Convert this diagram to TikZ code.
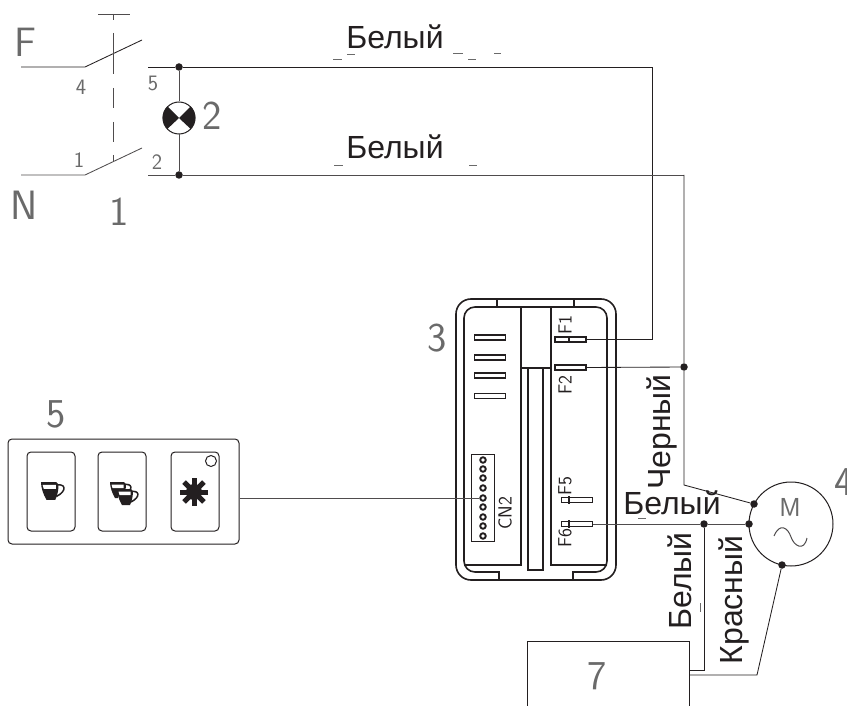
\documentclass[tikz,border=0pt]{standalone}
\usepackage{fontspec}
\setmainfont{Liberation Sans}
\usetikzlibrary{calc}
\definecolor{ink}{HTML}{231F20}
\definecolor{cadgray}{HTML}{6A6A6A}
\tikzset{
  wire/.style={draw=ink,line width=0.85pt},
  thinline/.style={draw=ink!80,line width=0.85pt},
  box/.style={draw=ink,line width=1.6pt},
  joint/.style={circle,fill=ink,inner sep=0pt,minimum size=7.5pt},
  pin/.style={circle,draw=ink,line width=1.9pt,fill=white,inner sep=0pt,minimum size=5.5pt},
  slotbox/.style={draw=ink,line width=1.5pt,fill=white,rectangle,inner sep=0pt,minimum width=31pt,minimum height=5pt},
  colourlabel/.style={font=\fontsize{32}{35}\selectfont,text=ink,inner sep=0pt,anchor=base},
  cadL/.style={font=\sffamily\fontsize{41}{44}\selectfont,text=cadgray,inner sep=0pt},
  cadS/.style={font=\sffamily\fontsize{22}{24}\selectfont,text=cadgray,inner sep=0pt},
  cadT/.style={font=\sffamily\fontsize{19}{21}\selectfont,text=ink,inner sep=0pt,rotate=90},
  tick/.style={draw=cadgray,line width=0.9pt},
  button/.style={draw=ink,line width=1pt,rounded corners=4pt,rectangle,minimum width=48pt,minimum height=79pt,inner sep=0pt},
  cupicon/.pic={
    \draw[ink,line width=1.5pt] (2,-5) .. controls (13,-8) and (14,0) .. (4,5);
    \fill[ink] (-10,-8) -- (4,-8) .. controls (7,-8) and (6,2) .. (3,8) -- (-5,8) .. controls (-8,3) and (-10,-3) .. cycle;
    \fill[white] (-8.5,-5.5) -- (3.5,-5.5) -- (3.5,-2) -- (-7.5,-2) -- cycle;
  }
}
\begin{document}
\begin{tikzpicture}[x=1pt,y=-1pt]
\useasboundingbox (0,0) rectangle (847,706);

% ---- switch 1
\coordinate (fin) at (21,67);
\coordinate (fpiv) at (85,67);
\coordinate (fend) at (142,40);
\coordinate (nin) at (21,175);
\coordinate (npiv) at (85,175);
\coordinate (nend) at (142,148);
\coordinate (outF) at (148,67);
\coordinate (outN) at (148,175);
\draw[wire] (fin) -- (fpiv) -- (fend);
\draw[thinline] (nin) -- (npiv) -- (nend);
\coordinate (linkA) at (113,33);
\coordinate (linkB) at (113,162);
\coordinate (tbarL) at (98,14);
\coordinate (tbarR) at (130,14);
\coordinate (tbarM) at (113,14);
\coordinate (tbarD) at (113,20);
\draw[thinline] (tbarL) -- (tbarR) (tbarM) -- (tbarD);
\draw[thinline,dash pattern=on 41pt off 14pt on 20pt off 14pt on 20pt off 13pt on 7pt] (linkA) -- (linkB);
\node[cadL] (lF) at (25,42) {F};
\node[cadL] (lN) at (24,205) {N};
\node[cadL] (l1) at (119,212) {1};
\node[cadS] (p4) at (81,87) {4};
\node[cadS] (p5) at (153,83) {5};
\node[cadS] (p1) at (79,160) {1};
\node[cadS] (p2) at (157,162) {2};

% ---- lamp 2
\node[circle,draw=ink,line width=1pt,fill=white,minimum size=32pt,inner sep=0pt] (lamp) at (179,118) {};
\fill[ink] (lamp.center) -- (lamp.135) arc[start angle=135,end angle=225,radius=16pt] -- cycle;
\fill[ink] (lamp.center) -- (lamp.45) arc[start angle=45,end angle=-45,radius=16pt] -- cycle;
\node[joint] (jF) at (179,67) {};
\node[joint] (jN) at (179,175) {};
\draw[thinline] (jF) -- (lamp);
\draw[thinline] (jN) -- (lamp);
\node[cadL] (l2) at (212,116) {2};

% ---- controller 3
\node[box,rectangle,rounded corners=15pt,minimum width=160pt,minimum height=281pt,inner sep=0pt] (ctrl) at (536,439.5) {};
\draw[box] (499,580) -- (499,572) [rounded corners=11pt] -- (464,572) -- (464,307) -- (607,307) -- (607,572) [sharp corners] -- (573,572) -- (573,580);
\draw[box] (497,299) -- (497,307) (574,299) -- (574,307);
\draw[box] (464,565) -- (521,565) -- (521,307);
\draw[box] (607,565) -- (551,565) -- (551,307);
\draw[box] (521,368) -- (551,368);
\node[box,rectangle,minimum width=15pt,minimum height=202pt,inner sep=0pt] (strip) at (535.5,469) {};
\foreach \n/\yy in {a/337.5,b/357.5,c/375.5,d/396} {
  \node[slotbox] (slot\n) at (490,\yy) {};
}
\node[slotbox] (F1) at (570.5,339.5) {};
\node[slotbox] (F2) at (570.5,367.5) {};
\node[slotbox] (F5) at (577,500) {};
\node[slotbox] (F6) at (577,524) {};
\draw[box] (569,336) -- (569,343) (569,496) -- (569,504) (569,520) -- (569,528);
\node[cadT] (tF1) at (565,325) {F1};
\node[cadT] (tF2) at (565,385) {F2};
\node[cadT] (tF5) at (565,486) {F5};
\node[cadT] (tF6) at (565,538) {F6};
\node[cadT] (tCN) at (505,513) {CN2};
\node[draw=ink,line width=.9pt,rectangle,minimum width=23pt,minimum height=87pt,inner sep=0pt] (cn) at (482.5,497.5) {};
\foreach \i/\yy in {1/460,2/469,3/478,4/488,5/498,6/507,7/517,8/526,9/536} {
  \node[pin] (pin\i) at (483,\yy) {};
}
\node[cadL] (l3) at (437,338) {3};

% ---- panel 5
\node[box,draw=ink,line width=1pt,rectangle,rounded corners=4pt,minimum width=231pt,minimum height=105pt,inner sep=0pt] (panel) at (123.5,491.5) {};
\node[button] (b1) at (51,491.5) {};
\node[button] (b2) at (122,491.5) {};
\node[button] (b3) at (195,491.5) {};
\node[circle,draw=ink,line width=1pt,minimum size=11pt,inner sep=0pt] (led) at (211,461) {};
\pic[scale=1.1] at (52,491) {cupicon};
\pic at (120,490) {cupicon};
\fill[white] (118,490) rectangle (139,506);
\pic at (127,497) {cupicon};
\foreach \a in {0,45,90,135} {
  \draw[ink,line width=5pt] ($(194,492)+(\a:14pt)$) -- ($(194,492)+(\a+180:14pt)$);
}
\fill[ink] (194,492) circle[radius=8pt];
\node[cadL] (l5) at (56,414) {5};

% ---- motor 4
\node[circle,draw=ink,line width=1pt,minimum size=84pt,inner sep=0pt] (motor) at (791,524) {};
\node[cadS,font=\sffamily\fontsize{26}{28}\selectfont] (lM) at (790,507) {M};
\coordinate (sA) at (774,536);
\coordinate (sB) at (807,538);
\draw[thinline,line width=1pt] (sA) .. controls (780,522) and (788,528) .. (791,537) .. controls (794,546) and (804,552) .. (sB);
\node[cadL,anchor=west] (l4) at (834,482) {4};
\node[joint] (jM1) at (754,504) {};
\node[joint] (jM2) at (749,524) {};
\node[joint] (jM3) at (782,565) {};
\node[joint] (jW) at (704,524) {};
\node[joint] (jB) at (684,367) {};

% ---- box 7
\coordinate (b7a) at (527,706);
\coordinate (b7b) at (527,641);
\coordinate (b7c) at (689,641);
\coordinate (b7d) at (689,706);
\draw[wire] (b7a) -- (b7b) -- (b7c) -- (b7d);
\node[cadL] (l7) at (597,676) {7};

% ---- wires
\coordinate (c1) at (652,67);
\coordinate (c2) at (652,339.5);
\coordinate (c3) at (684,175);
\coordinate (c4) at (684,485);
\coordinate (c5) at (704,670);
\coordinate (c6) at (689,670);
\coordinate (c7) at (757,675);
\coordinate (c8) at (689,675);
\draw[wire] (outF) -- (jF) -- (c1) -- (c2) -- (F1.east);
\draw[thinline] (outN) -- (jN) -- (c3);
\draw[wire] (c3) -- (jB) -- (c4) -- (jM1);
\draw[wire] (jB) -- (F2.east);
\draw[thinline] (F6.east) -- (jW);
\draw[thinline] (jW) -- (jM2);
\draw[wire] (jW) -- (c5) -- (c6);
\draw[wire] (jM3) -- (c7) -- (c8);
\draw[thinline] (panel.east |- pin5) -- (pin5);

% ---- colour labels
\node[colourlabel] (w1) at (395,49) {Белый};
\node[colourlabel] (w2) at (395,159) {Белый};
\node[colourlabel] (w3) at (672,514) {Белый};
\node[colourlabel,rotate=90] (w4) at (670,432) {Черный};
\node[colourlabel,rotate=90] (w5) at (691,581) {Белый};
\node[colourlabel,rotate=90] (w6) at (742,600) {Красный};

% ---- stray marks along the labels
\foreach \xa/\xb/\yy in {333/342/59,347/355/54,453/463/53,468/476/59,494/501/53,334/343/165,469/477/165,638/646/518} {
  \draw[tick] (\xa,\yy) -- (\xb,\yy);
}
\draw[tick] (700,603) -- (700,612);
\end{tikzpicture}
\end{document}
